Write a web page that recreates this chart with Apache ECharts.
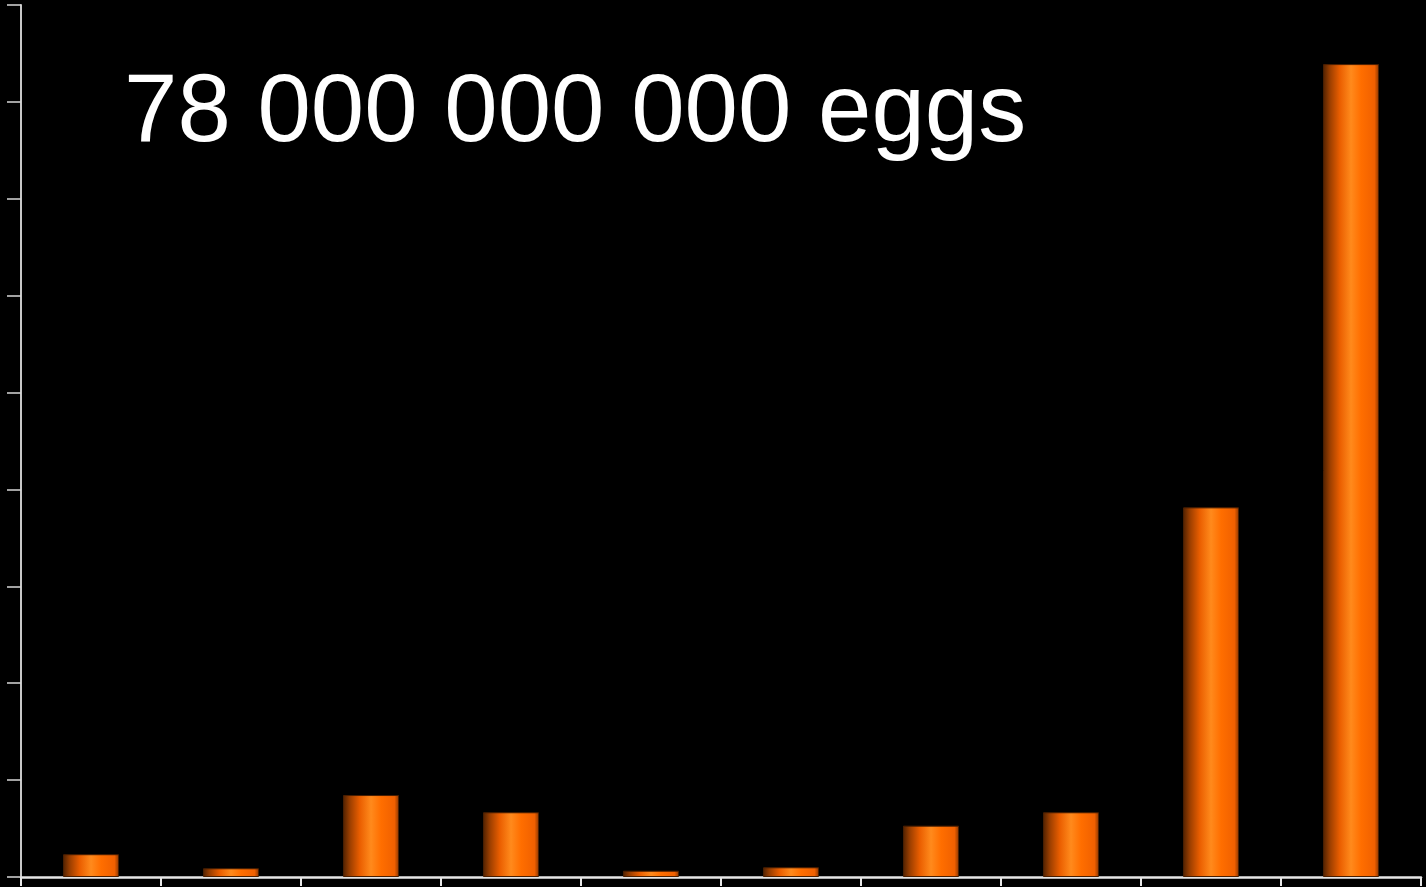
<!DOCTYPE html>
<html>
<head>
<meta charset="utf-8">
<style>
  html, body { margin: 0; padding: 0; background: #000; }
  #chart { width: 1426px; height: 887px; }
</style>
<script src="https://cdn.jsdelivr.net/npm/echarts@6/dist/echarts.min.js"></script>
</head>
<body>
<div id="chart"></div>
<script>
const categories = ['1', '2', '3', '4', '5', '6', '7', '8', '9', '10'];
const values = [0.235, 0.09, 0.846, 0.668, 0.065, 0.10, 0.53, 0.668, 3.815, 8.39];
const titleText = '78 000 000 000 eggs';

const chart = echarts.init(document.getElementById('chart'));
const barGradient = new echarts.graphic.LinearGradient(0, 0, 1, 0, [
  { offset: 0, color: '#4e2000' },
  { offset: 0.12, color: '#9a3e00' },
  { offset: 0.3, color: '#ea5e00' },
  { offset: 0.5, color: '#ff8a1c' },
  { offset: 0.68, color: '#ff6e00' },
  { offset: 0.92, color: '#f06000' },
  { offset: 1, color: '#8a3600' }
]);
chart.setOption({
  backgroundColor: '#000000',
  animation: false,
  title: {
    text: titleText,
    left: 119,
    top: 62,
    textStyle: {
      color: '#ffffff',
      fontFamily: 'Liberation Sans, Arial, sans-serif',
      fontSize: 96,
      fontWeight: 'normal'
    }
  },
  grid: { left: 21, right: 5, top: 5, bottom: 10, containLabel: false },
  xAxis: {
    type: 'category',
    data: categories,
    boundaryGap: true,
    axisLine: { lineStyle: { color: '#e6e6e6', width: 2.5 } },
    axisTick: { show: true, alignWithLabel: false, length: 9, lineStyle: { color: '#e6e6e6', width: 2 } },
    axisLabel: { show: false },
    splitLine: { show: false }
  },
  yAxis: {
    type: 'value',
    min: 0,
    max: 9,
    interval: 1,
    axisLine: { show: true, lineStyle: { color: '#c8c8c8', width: 2 } },
    axisTick: { show: true, length: 14, lineStyle: { color: '#d8d8d8', width: 1.5 } },
    axisLabel: { show: false },
    splitLine: { show: false }
  },
  series: [{
    type: 'bar',
    data: values,
    barWidth: 56,
    itemStyle: {
      color: barGradient,
      borderColor: '#4a1e00',
      borderWidth: 1
    }
  }]
});
</script>
</body>
</html>
